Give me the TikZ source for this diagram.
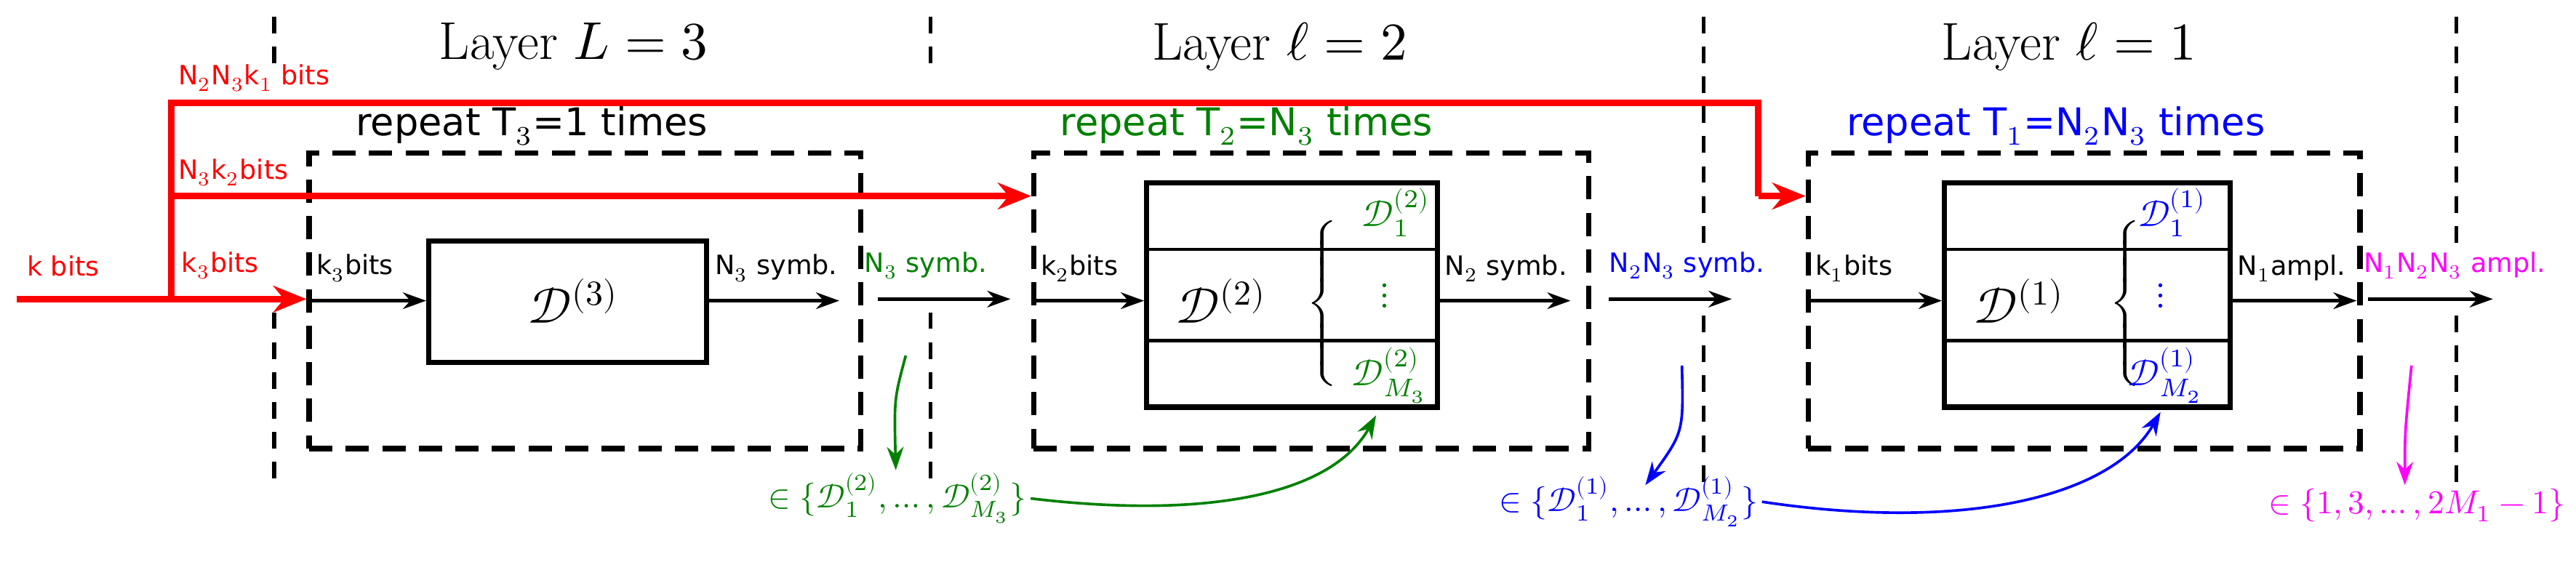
\documentclass[tikz,border=0pt]{standalone}
\usepackage{fontspec}
\setmainfont{DejaVu Sans}
\newfontfamily\lmr{Latin Modern Roman}
\usepackage{amsmath}
\usepackage{unicode-math}
\setmathfont{Latin Modern Math}
\usetikzlibrary{arrows.meta}
\definecolor{gr}{RGB}{0,128,0}
\definecolor{mag}{RGB}{255,0,255}
\definecolor{blu}{RGB}{0,0,255}
\definecolor{rd}{RGB}{255,0,0}
\begin{document}
\begin{tikzpicture}[x=0.5pt,y=-0.5pt,
  lay/.style={font=\fontsize{16}{18}\selectfont\lmr},
  sm/.style={font=\fontsize{8}{10}\selectfont, inner sep=1pt},
  rep/.style={font=\fontsize{11.5}{13}\selectfont, inner sep=1pt},
  red/.style={draw=rd, line width=2pt},
  arr/.style={-{Stealth[length=7pt,width=5pt]}, line width=1pt},
  dbox/.style={draw, line width=1.6pt, dash pattern=on 7pt off 4pt},
  ibox/.style={draw, line width=1.6pt},
  vl/.style={draw, line width=1.2pt, dash pattern=on 5pt off 4pt},
  mth/.style={font=\fontsize{11}{13}\selectfont, inner sep=1pt},
  st/.style={font=\fontsize{10}{12}\selectfont, inner sep=1pt},
  cur/.style={-{Stealth[length=7pt,width=5pt]}, line width=0.8pt}]
\useasboundingbox (0,0) rectangle (1550,338);
% vertical separators
\foreach \x in {165, 560} {
  \draw[vl] (\x,10) -- (\x,38); \draw[vl] (\x,188) -- (\x,295);}
\draw[vl] (1025,10) -- (1025,150); \draw[vl] (1025,190) -- (1025,295);
\draw[vl] (1478,10) -- (1478,150); \draw[vl] (1478,190) -- (1478,295);
% layer titles
\node[lay] (l3) at (345,28) {Layer $L = 3$};
\node[lay] (l2) at (770,28) {Layer $\ell = 2$};
\node[lay] (l1) at (1245,28) {Layer $\ell = 1$};
% dashed boxes
\node[dbox, minimum width=166pt, minimum height=89pt] (B3) at (352,181) {};
\node[dbox, minimum width=167pt, minimum height=89pt] (B2) at (789,181) {};
\node[dbox, minimum width=166pt, minimum height=89pt] (B1) at (1254,181) {};
\node[rep, anchor=south] (r3) at (320,90) {repeat T$_3$=1 times};
\node[rep, anchor=south, text=gr] (r2) at (750,90) {repeat T$_2$=N$_3$ times};
\node[rep, anchor=south, text=blu] (r1) at (1237,90) {repeat T$_1$=N$_2$N$_3$ times};
% inner boxes
\node[ibox, minimum width=83.5pt, minimum height=36.5pt] (D3) at (341.5,181.5) {};
\node[font=\fontsize{15}{17}\selectfont] at (345,181) {$\mathcal{D}^{(3)}$};
\node[ibox, minimum width=87.5pt, minimum height=67.5pt] (D2) at (777.5,177.5) {};
\draw[line width=1pt] (690,150) -- (865,150) (690,205) -- (865,205);
\node[font=\fontsize{15}{17}\selectfont] at (735,181) {$\mathcal{D}^{(2)}$};
\node[inner sep=0] at (797,180) {$\left\{\rule{0pt}{30pt}\right.$};
\node[text=gr, mth] at (840,128) {$\mathcal{D}_1^{(2)}$};
\node[text=gr, mth] at (833,178) {$\vdots$};
\node[text=gr, mth] at (836,226) {$\mathcal{D}_{M_3}^{(2)}$};
\node[ibox, minimum width=86pt, minimum height=67.5pt] (D1) at (1256,177.5) {};
\draw[line width=1pt] (1170,150) -- (1342,150) (1170,205) -- (1342,205);
\node[font=\fontsize{15}{17}\selectfont] at (1215,181) {$\mathcal{D}^{(1)}$};
\node[inner sep=0] at (1280,180) {$\left\{\rule{0pt}{30pt}\right.$};
\node[text=blu, mth] at (1307,128) {$\mathcal{D}_1^{(1)}$};
\node[text=blu, mth] at (1300,178) {$\vdots$};
\node[text=blu, mth] at (1303,226) {$\mathcal{D}_{M_2}^{(1)}$};
% red lines
\coordinate (kin) at (10,180);
\coordinate (br) at (103,180);
\coordinate (t1) at (103,62);
\coordinate (t2) at (1058,62);
\coordinate (t3) at (1058,118);
\coordinate (m1) at (103,118);
\draw[red] (kin) -- (br);
\draw[red, -{Stealth[length=10pt,width=8pt]}] (br) -- (B3.west |- br);
\draw[red] (br) -- (t1) -- (t2) -- (t3);
\draw[red, -{Stealth[length=10pt,width=8pt]}] (t3) -- (B1.west |- t3);
\draw[red, -{Stealth[length=10pt,width=8pt]}] (m1) -- (B2.west |- m1);
\node[sm, text=rd] at (38,160) {k bits};
\node[sm, text=rd, anchor=west] at (107,160) {k$_3$bits};
\node[sm, text=rd, anchor=west] at (105,104) {N$_3$k$_2$bits};
\node[sm, text=rd, anchor=west] at (105,47) {N$_2$N$_3$k$_1$ bits};
% black arrows
\draw[arr] (B3.west |- 0,181) -- (D3.west |- 0,181);
\node[sm, anchor=south west] at (188,172) {k$_3$bits};
\coordinate (o3) at (505,181);
\draw[arr] (D3.east |- o3) -- (o3);
\node[sm, anchor=south west] at (428,172) {N$_3$ symb.};
\coordinate (g1) at (528,180); \coordinate (g2) at (608,180);
\draw[arr] (g1) -- (g2);
\node[sm, text=gr] at (557,160) {N$_3$ symb.};
\draw[arr] (B2.west |- 0,181) -- (D2.west |- 0,181);
\node[sm, anchor=south west] at (624,172) {k$_2$bits};
\coordinate (o2) at (945,181);
\draw[arr] (D2.east |- o2) -- (o2);
\node[sm, anchor=south west] at (867,172) {N$_2$ symb.};
\coordinate (b1) at (968,180); \coordinate (b2) at (1042,180);
\draw[arr] (b1) -- (b2);
\node[sm, text=blu] at (1015,160) {N$_2$N$_3$ symb.};
\draw[arr] (B1.west |- 0,181) -- (D1.west |- 0,181);
\node[sm, anchor=south west] at (1090,172) {k$_1$bits};
\coordinate (o1) at (1418,181);
\draw[arr] (D1.east |- o1) -- (o1);
\node[sm, anchor=south west] at (1344,172) {N$_1$ampl.};
\coordinate (p1) at (1425,180); \coordinate (p2) at (1500,180);
\draw[arr] (p1) -- (p2);
\node[sm, text=mag] at (1477,160) {N$_1$N$_2$N$_3$ ampl.};
% sets
\node[text=gr, st] (sg) at (540,300) {$\in\{\mathcal{D}_1^{(2)},\ldots,\mathcal{D}_{M_3}^{(2)}\}$};
\node[text=blu, st] (sb) at (980,302) {$\in\{\mathcal{D}_1^{(1)},\ldots,\mathcal{D}_{M_2}^{(1)}\}$};
\node[text=mag, st, anchor=east] (sm) at (1546,304) {$\in\{1,3,\ldots,2M_1-1\}$};
\coordinate (gs) at (545,214); \coordinate (ge) at (539,283);
\draw[cur, gr] (gs) .. controls (538,240) .. (ge);
\coordinate (gt) at (828,250);
\draw[cur, gr] (sg.east) .. controls (720,312) and (800,300) .. (gt);
\coordinate (bs) at (1012,220); \coordinate (be) at (990,292);
\draw[cur, blu] (bs) .. controls (1013,260) .. (be);
\coordinate (bt) at (1300,248);
\draw[cur, blu] (sb.east) .. controls (1180,320) and (1270,300) .. (bt);
\coordinate (ms) at (1451,220); \coordinate (me) at (1447,292);
\draw[cur, mag] (ms) .. controls (1447,260) .. (me);
\end{tikzpicture}
\end{document}
